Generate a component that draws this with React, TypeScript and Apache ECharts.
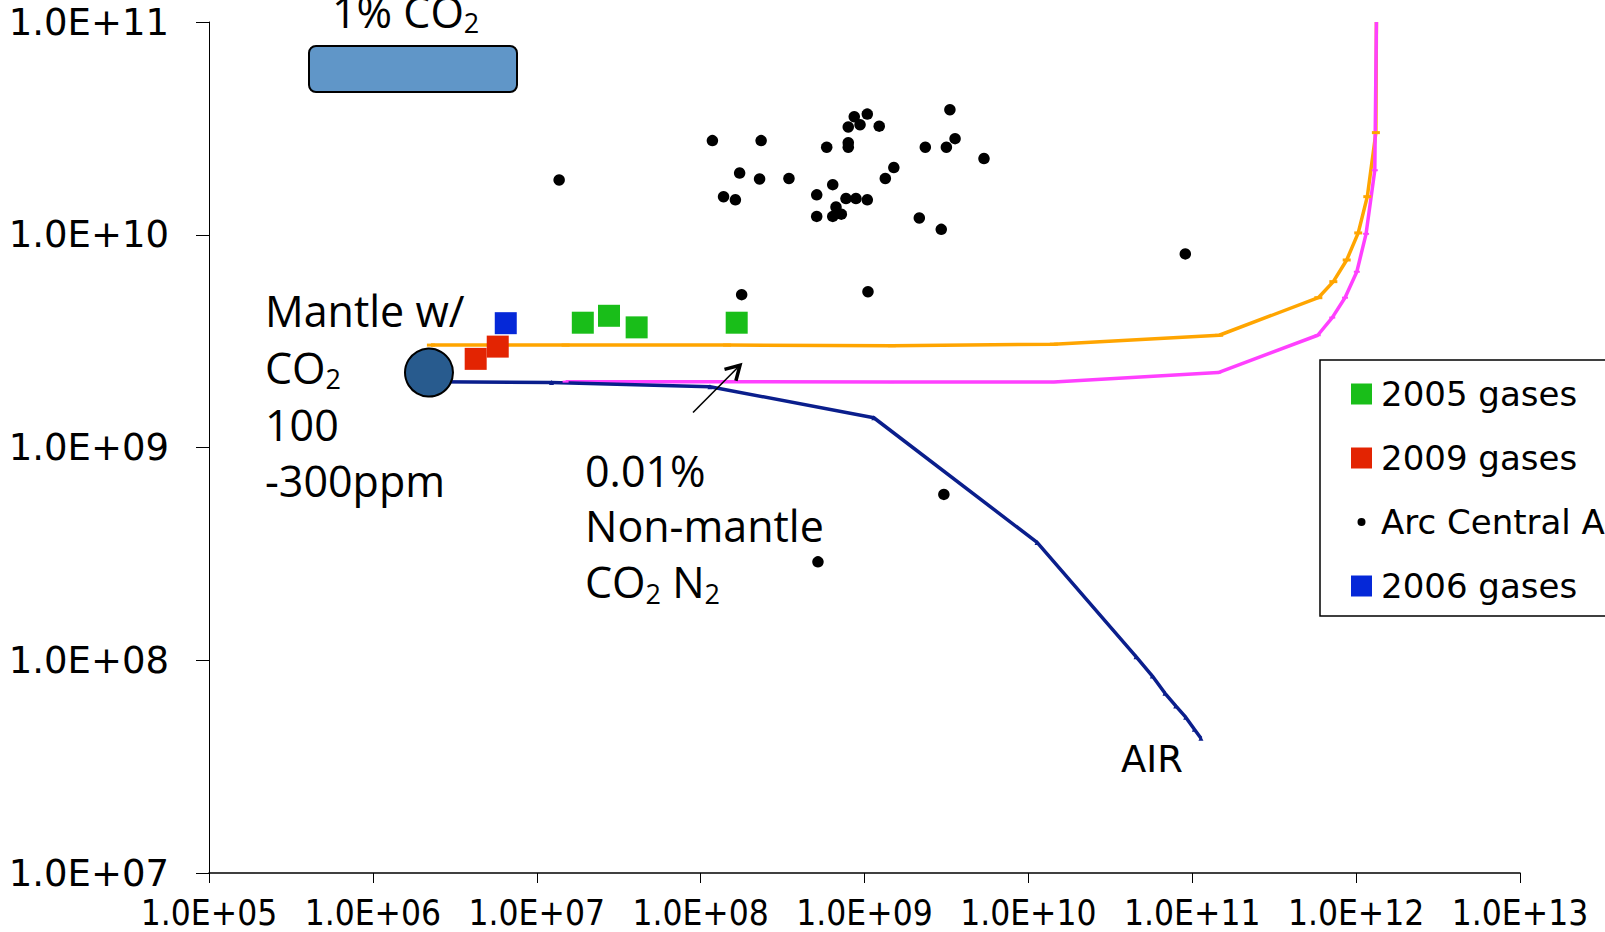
import React, { useEffect, useRef } from 'react';
import * as echarts from 'echarts';

// ---- data (x, y) ----
const gases2005: [number, number][] = [
  [1.91e7, 3.86e9], [2.76e7, 4.16e9], [4.07e7, 3.67e9], [1.66e8, 3.86e9],
];
const gases2009: [number, number][] = [
  [4.24e6, 2.61e9], [5.78e6, 2.98e9],
];
const gases2006: [number, number][] = [
  [6.47e6, 3.84e9],
];
const arcCentralAmerica: [number, number][] = [
  [1.37e7, 1.81e10], [1.18e8, 2.77e10], [2.34e8, 2.77e10], [1.73e8, 1.95e10], [2.29e8, 1.83e10],
  [3.46e8, 1.84e10], [1.38e8, 1.51e10], [1.63e8, 1.46e10], [5.88e8, 2.58e10], [7.96e8, 2.71e10],
  [7.96e8, 2.58e10], [8.66e8, 3.59e10], [1.04e9, 3.69e10], [9.39e8, 3.29e10], [7.96e8, 3.21e10],
  [1.23e9, 3.24e10], [3.32e9, 3.87e10], [3.57e9, 2.83e10], [2.35e9, 2.58e10], [3.16e9, 2.58e10],
  [5.36e9, 2.28e10], [1.51e9, 2.07e10], [1.34e9, 1.84e10], [6.4e8, 1.72e10], [5.11e8, 1.54e10],
  [7.71e8, 1.48e10], [8.87e8, 1.48e10], [1.04e9, 1.46e10], [6.7e8, 1.35e10], [5.11e8, 1.22e10],
  [6.4e8, 1.22e10], [7.22e8, 1.25e10], [2.16e9, 1.2e10], [2.94e9, 1.06e10], [1.78e8, 5.23e9],
  [1.05e9, 5.4e9], [9.07e10, 8.13e9], [3.05e9, 6.02e8], [5.2e8, 2.9e8],
];
const mantleEndMember: [number, number][] = [[2.2e6, 2.25e9]];
const mixCO2Line: [number, number][] = [
  [2.26e6, 3.03e9], [1.5e7, 3.03e9], [1.45e8, 3.03e9], [1.47e9, 3.01e9], [1.43e10, 3.06e9],
  [1.46e11, 3.37e9], [5.88e11, 5.06e9], [7.26e11, 6.02e9], [8.76e11, 7.61e9], [1.03e12, 1.02e10],
  [1.17e12, 1.51e10], [1.32e12, 3.02e10], [1.33e12, 1e11],
];
const mixNonMantleLine: [number, number][] = [
  [1.5e7, 2.04e9], [1.45e8, 2.04e9], [1.45e9, 2.03e9], [1.43e10, 2.03e9], [1.44e11, 2.25e9],
  [5.83e11, 3.37e9], [7.15e11, 4.08e9], [8.55e11, 5.06e9], [1.01e12, 6.7e9], [1.15e12, 1.01e10],
  [1.3e12, 2.01e10], [1.33e12, 1e11],
];
const mixAirLine: [number, number][] = [
  [2.3e6, 2.04e9], [1.23e7, 2.02e9], [1.14e8, 1.93e9], [1.14e9, 1.38e9], [1.13e10, 3.58e8],
  [4.54e10, 1.04e8], [5.71e10, 8.43e7], [6.82e10, 6.99e7], [7.93e10, 6.1e7], [9.12e10, 5.4e7],
  [1.03e11, 4.74e7], [1.13e11, 4.3e7],
];
const xRange = [1e5, 1e13];
const yRange = [1e7, 1e11];
const legendNames = ['2005 gases', '2009 gases', 'Arc Central America', '2006 gases'];

const sci = (v: number) => {
  const e = Math.round(Math.log10(v));
  return '1.0E+' + (e < 10 ? '0' + e : String(e));
};

const OS = 'Open Sans';
const DV = 'DejaVu Sans';

const richSub = (size: number, sub: number) => ({
  n: { fontFamily: OS, fontSize: size, lineHeight: 50, fill: '#000' },
  s: { fontFamily: OS, fontSize: sub, lineHeight: 18, verticalAlign: 'bottom', fill: '#000' },
});

function txt(x: number, y: number, text: string, extra: any = {}) {
  return {
    type: 'text', x, y, z: 100,
    style: { text, fontFamily: OS, fontSize: 43, fill: '#000', align: 'left', verticalAlign: 'middle', ...extra },
  };
}

export default function App() {
  const ref = useRef<HTMLDivElement>(null);
  useEffect(() => {
    const chart = echarts.init(ref.current!, null, { renderer: 'svg' });
    const lineSeries = (name: string, data: [number, number][], color: string, symbol: string, size: any) => ({
      name, type: 'line', data: data.map((d, i) => (i === data.length - 1 && d[1] >= 1e11 ? { value: d, symbol: 'none' } : d)),
      symbol, symbolSize: size, showSymbol: true,
      lineStyle: { color, width: 3.5 }, itemStyle: { color, opacity: 1 },
      z: 2, silent: true,
    });
    const option: any = {
      animation: false,
      backgroundColor: '#fff',
      grid: { left: 209, right: 85, top: 22, bottom: 59, containLabel: false },
      xAxis: {
        type: 'log', logBase: 10, min: xRange[0], max: xRange[1], splitNumber: 8,
        axisLine: { lineStyle: { color: '#000', width: 1.5 } },
        axisTick: { show: true, length: 10, inside: false, lineStyle: { color: '#000', width: 1 } },
        axisLabel: { formatter: sci, interval: 0, margin: 22, color: '#000',
          fontFamily: 'DejaVu Sans Condensed, DejaVu Sans', fontSize: 35 },
        splitLine: { show: false }, minorTick: { show: false },
      },
      yAxis: {
        type: 'log', logBase: 10, min: yRange[0], max: yRange[1], splitNumber: 4,
        axisLine: { show: true, lineStyle: { color: '#000', width: 1 } },
        axisTick: { show: true, length: 13, inside: false, lineStyle: { color: '#000', width: 1 } },
        axisLabel: { formatter: sci, margin: 40, color: '#000', fontFamily: DV, fontSize: 37 },
        splitLine: { show: false }, minorTick: { show: false },
      },
      legend: {
        orient: 'vertical', left: 1320, top: 360,
        data: [
          { name: legendNames[0], icon: 'rect' },
          { name: legendNames[1], icon: 'rect' },
          { name: legendNames[2], icon: 'path://M0 0M21 21M14.5 10.5A4 4 0 1 1 6.5 10.5A4 4 0 1 1 14.5 10.5Z' },
          { name: legendNames[3], icon: 'rect' },
        ],
        itemWidth: 21, itemHeight: 21, itemGap: 30,
        padding: [17, 40, 13, 31],
        borderColor: '#000', borderWidth: 1.5, backgroundColor: '#fff',
        selectedMode: false,
        textStyle: { fontFamily: DV, fontSize: 34, lineHeight: 34, color: '#000', padding: [0, 0, 0, 4] },
      },
      series: [
        lineSeries('Mixing line 1% CO2', mixCO2Line, '#ffa500', 'rect', [8, 3]),
        lineSeries('Mixing line 0.01% non-mantle', mixNonMantleLine, '#ff40ff', 'rect', [6, 2]),
        lineSeries('Mixing line AIR', mixAirLine, '#0a1e8c', 'triangle', 5),
        {
          name: 'Mantle', type: 'scatter', data: mantleEndMember, symbol: 'circle', symbolSize: 48,
          itemStyle: { color: '#285b8e', borderColor: '#000', borderWidth: 2, opacity: 1 }, z: 4,
        },
        {
          name: legendNames[2], type: 'scatter', data: arcCentralAmerica, symbol: 'circle', symbolSize: 11.5,
          itemStyle: { color: '#000', opacity: 1 }, z: 5,
        },
        {
          name: legendNames[0], type: 'scatter', data: gases2005, symbol: 'rect', symbolSize: 22,
          itemStyle: { color: '#19be19', opacity: 1 }, z: 6,
        },
        {
          name: legendNames[1], type: 'scatter', data: gases2009, symbol: 'rect', symbolSize: 22,
          itemStyle: { color: '#e32402', opacity: 1 }, z: 6,
        },
        {
          name: legendNames[3], type: 'scatter', data: gases2006, symbol: 'rect', symbolSize: 22,
          itemStyle: { color: '#0528d8', opacity: 1 }, z: 6,
        },
      ],
      graphic: [
        {
          type: 'rect', z: 100, shape: { x: 309, y: 46, width: 208, height: 46, r: 7 },
          style: { fill: '#6096c8', stroke: '#000', lineWidth: 2 },
        },
        txt(332, 11, '{n|1% CO}{s|2}', { rich: richSub(43, 27) }),
        txt(265, 310, 'Mantle w/'),
        txt(265, 367.3, '{n|CO}{s|2}', { rich: richSub(43, 27) }),
        txt(265, 424.3, '100'),
        txt(265, 480, '-300ppm'),
        txt(585, 470, '0.01%'),
        txt(585, 525, 'Non-mantle'),
        txt(585, 581.6, '{n|CO}{s|2}{n| N}{s|2}', { rich: richSub(43, 27) }),
        txt(1121, 759.5, 'AIR', { fontFamily: DV, fontSize: 37 }),
        {
          type: 'line', z: 100, shape: { x1: 693, y1: 412.5, x2: 739, y2: 366.3 },
          style: { stroke: '#000', lineWidth: 1.6 },
        },
        {
          type: 'polyline', z: 100, shape: { points: [[724.5, 369.4], [740, 365.3], [735.9, 380.8]] },
          style: { stroke: '#000', lineWidth: 3.5, fill: 'none' },
        },
      ],
    };
    chart.setOption(option);
    return () => chart.dispose();
  }, []);
  return (
    <div
      ref={ref}
      style={{ position: 'fixed', left: 0, top: 0, width: 1605, height: 932, background: '#fff' }}
    />
  );
}
